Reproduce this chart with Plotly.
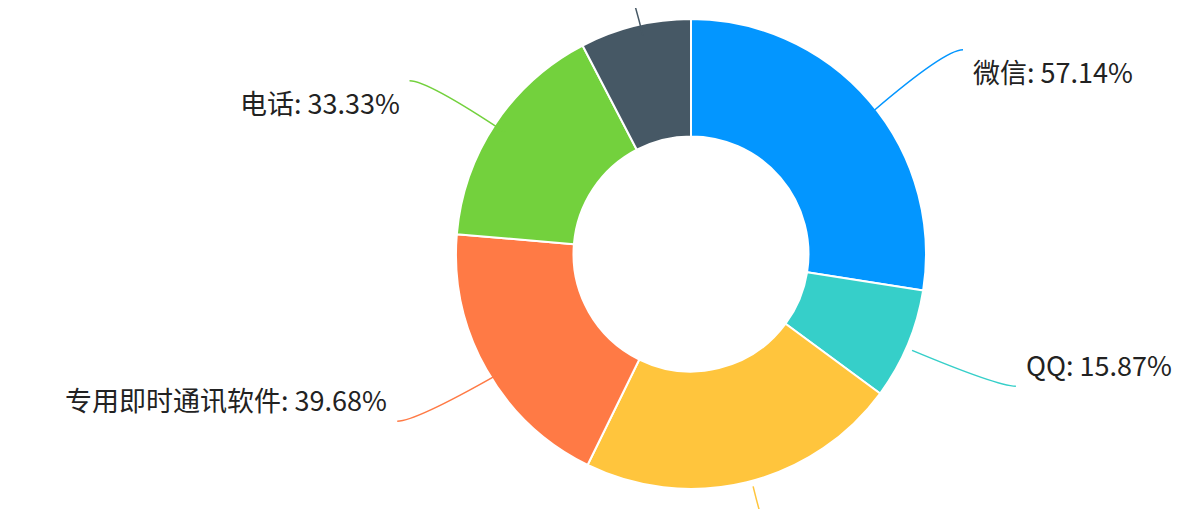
import math
import plotly.graph_objects as go

labels = ["微信", "QQ", "邮件", "专用即时通讯软件", "电话", "其他"]
values = [57.14, 15.87, 46.03, 39.68, 33.33, 15.87]
colors = ["#0396FF", "#36CFC9", "#FFC53D", "#FF7A45", "#73D13D", "#465865"]

W, H = 1196, 509
cx, cy, R = 690, 253, 235
dom_cx, dom_cy = 683, 246

fig = go.Figure(go.Pie(
    labels=labels, values=values, hole=0.5, sort=False, direction="clockwise",
    rotation=0, textinfo="none", hoverinfo="label+value",
    marker=dict(colors=colors, line=dict(color="white", width=2)),
    domain=dict(x=[(dom_cx - R) / W, (dom_cx + R) / W], y=[1 - (dom_cy + R) / H, 1 - (dom_cy - R) / H]),
    showlegend=False,
))

def to_paper(px, py):
    return px / W, 1 - py / H

total = sum(values)
cum = 0
shapes, annos = [], []
for lab, v, c in zip(labels, values, colors):
    mid = (cum + v / 2) / total * 2 * math.pi
    cum += v
    sx, sy = math.sin(mid), -math.cos(mid)
    p1 = (cx + sx * (R - 3), cy + sy * (R - 3))
    p2 = (cx + sx * (R + 90), cy + sy * (R + 90))
    side = 1 if sx >= 0 else -1
    p3 = (p2[0] + side * 18, p2[1])
    pts = [to_paper(*p) for p in (p1, p2, p3)]
    path = "M {} {} Q {} {} {} {}".format(pts[0][0], pts[0][1], pts[1][0], pts[1][1], pts[2][0], pts[2][1])
    shapes.append(dict(type="path", xref="paper", yref="paper", path=path,
                       line=dict(color=c, width=1.5)))
    ax, ay = to_paper(p3[0] + side * 8, p3[1])
    annos.append(dict(xref="paper", yref="paper", x=ax, y=ay, showarrow=False,
                      text=f"{lab}: {v:.2f}%", xanchor="left" if side > 0 else "right",
                      font=dict(size=27, color="#222", family="Noto Sans CJK SC")))

fig.update_layout(width=W, height=H, margin=dict(l=0, r=0, t=0, b=0),
                  paper_bgcolor="white", shapes=shapes, annotations=annos)
fig.write_html("out.html")
